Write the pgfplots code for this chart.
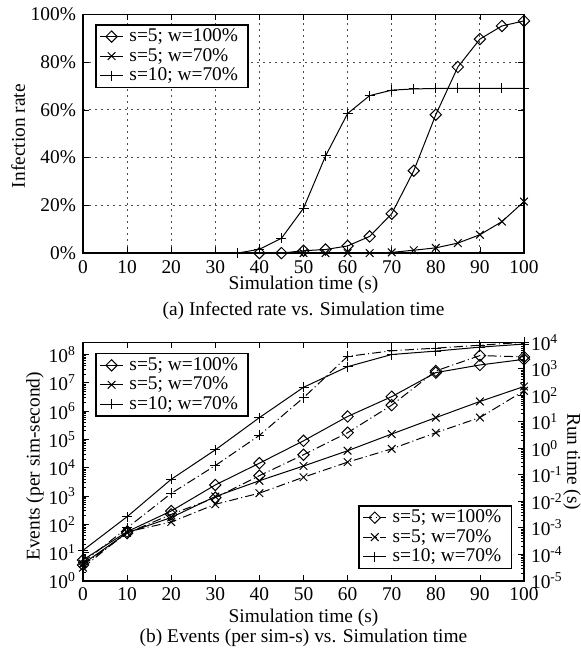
\documentclass[border=0pt]{standalone}
\usepackage{fontspec}
\setmainfont{Liberation Serif}
\usepackage{pgfplots}
\pgfplotsset{compat=1.18}

% 1 px of the reference = 0.5pt
\newcommand{\fnt}{\fontsize{9.7}{11}\selectfont}

\pgfplotsset{
  every axis/.append style={
    font=\fnt,
    scale only axis, width=220.5pt, height=119.3pt,
    xmin=0, xmax=100, xtick={0,10,...,100},
    /pgf/number format/assume math mode=true,
    tick align=inside, major tick length=3pt, minor tick length=1.6pt,
    axis line style={line width=0.8pt},
    tick style={black, line width=0.4pt},
    legend cell align=left,
    legend style={font=\fnt, inner xsep=2pt, inner ysep=1pt, line width=0.8pt,
      nodes={inner ysep=0.9pt, inner xsep=3pt}},
    legend image code/.code={\draw[mark repeat=2,mark phase=2]
      plot coordinates {(0cm,0cm)(0.2cm,0cm)(0.4cm,0cm)};},
  },
  dia/.style={black, line width=0.5pt, mark=square, mark size=2pt, mark options={rotate=45, solid, fill=white}},
  crs/.style={black, line width=0.5pt, mark=x, mark size=2.7pt, mark options={solid}},
  pls/.style={black, line width=0.5pt, mark=+, mark size=2.5pt, mark options={solid}},
  dd/.style={dash pattern=on 4.5pt off 1.6pt on 0.5pt off 1.6pt},
}

\begin{document}
\begin{tikzpicture}
\path[use as bounding box] (0,0) rectangle (290.5pt,-326pt);

% ---------- (a) infection rate ----------
\begin{axis}[
  name=axa, at={(41.5pt,-7.25pt)}, anchor=north west,
  ymin=0, ymax=100, ytick={0,20,...,100},
  yticklabel={\pgfmathprintnumber{\tick}\%},
  xmajorgrids=true, ymajorgrids=true,
  grid style={black!70, line width=0.5pt, dash pattern=on 1.2pt off 1.8pt},
  xlabel={Simulation time (s)}, ylabel={Infection rate},
  xlabel style={at={(axis description cs:0.5,-0.134)}, anchor=center},
  ylabel style={at={(axis description cs:-0.147,0.49)}, anchor=center},
  legend style={at={(0.027,0.96)}, anchor=north west},
]
\addplot[dia] coordinates {(40,0)(45,0)(50,1)(55,1.5)(60,3)(65,7)(70,16.5)(75,34.5)(80,58)(85,78)(90,89.7)(95,95.2)(100,97.3)};
\addlegendentry{s=5; w=100\%}
\addplot[crs] coordinates {(50,0)(55,0)(60,0)(65,0)(70,0.3)(75,1.2)(80,2.2)(85,4.2)(90,7.7)(95,13.2)(100,21.6)};
\addlegendentry{s=5; w=70\%}
\addplot[pls] coordinates {(35,0)(40,1.6)(45,6.2)(50,18.8)(55,40.7)(60,58.5)(65,66)(70,68.3)(75,68.8)(80,69)(85,69)(90,69)(95,69)(100,69)};
\addlegendentry{s=10; w=70\%}
\end{axis}
\node[font=\fnt] at ([yshift=-28.85pt]axa.south) {(a) Infected rate vs. Simulation time};

% ---------- (b) events, left axis ----------
\begin{axis}[
  name=axb, at={(41.5pt,-171.15pt)}, anchor=north west,
  ymode=log, ymin=1, ymax=2.7e8,
  ytick={1,10,100,1000,1e4,1e5,1e6,1e7,1e8},
  yticklabels={10\textsuperscript{0},10\textsuperscript{1},10\textsuperscript{2},10\textsuperscript{3},10\textsuperscript{4},10\textsuperscript{5},10\textsuperscript{6},10\textsuperscript{7},10\textsuperscript{8}},
  ytick pos=left,
  xlabel={Simulation time (s)}, ylabel={Events (per sim-second)},
  xlabel style={at={(axis description cs:0.5,-0.156)}, anchor=center},
  ylabel style={at={(axis description cs:-0.109,0.48)}, anchor=center},
  legend style={at={(0.027,0.956)}, anchor=north west},
]
\addplot[dia] coordinates {(0,5.5)(10,55)(20,295)(30,2455)(40,14450)(50,89100)(60,645700)(70,3.24e6)(80,2.29e7)(90,4.27e7)(100,6.76e7)};
\addlegendentry{s=5; w=100\%}
\addplot[crs] coordinates {(0,4.0)(10,50)(20,174)(30,955)(40,3467)(50,11480)(60,39810)(70,154900)(80,588800)(90,2.19e6)(100,7.41e6)};
\addlegendentry{s=5; w=70\%}
\addplot[pls] coordinates {(0,12)(10,186)(20,3890)(30,42660)(40,588800)(50,6.92e6)(60,3.72e7)(70,1.0e8)(80,1.32e8)(90,1.82e8)(100,2.34e8)};
\addlegendentry{s=10; w=70\%}
\end{axis}

% ---------- (b) run time, right axis ----------
\begin{axis}[
  at={(41.5pt,-171.15pt)}, anchor=north west,
  axis y line*=right, axis x line=none,
  ymode=log, ymin=1e-5, ymax=1e4,
  ytick={1e-5,1e-4,1e-3,1e-2,1e-1,1,10,100,1000,1e4},
  yticklabels={10\textsuperscript{-5},10\textsuperscript{-4},10\textsuperscript{-3},10\textsuperscript{-2},10\textsuperscript{-1},10\textsuperscript{0},10\textsuperscript{1},10\textsuperscript{2},10\textsuperscript{3},10\textsuperscript{4}},
  ylabel={Run time (s)},
  ylabel style={at={(axis description cs:1.109,0.5)}, anchor=center, rotate=180},
  legend style={at={(0.973,0.049)}, anchor=south east},
]
\addplot[dia, dd] coordinates {(0,3.98e-5)(10,6.31e-4)(20,3.24e-3)(30,0.0138)(40,0.0933)(50,0.575)(60,3.89)(70,42.7)(80,832)(90,3162)(100,2818)};
\addlegendentry{s=5; w=100\%}
\addplot[crs, dd] coordinates {(0,3.16e-5)(10,7.08e-4)(20,1.66e-3)(30,7.76e-3)(40,0.0204)(50,0.0813)(60,0.302)(70,0.955)(80,3.89)(90,14.5)(100,148)};
\addlegendentry{s=5; w=70\%}
\addplot[pls, dd] coordinates {(0,5.01e-5)(10,1e-3)(20,0.02)(30,0.224)(40,3.09)(50,81.3)(60,2951)(70,4786)(80,6026)(90,7762)(100,10000)};
\addlegendentry{s=10; w=70\%}
\end{axis}
\node[font=\fnt] at ([yshift=-28.65pt]axb.south) {(b) Events (per sim-s) vs. Simulation time};
\end{tikzpicture}
\end{document}
